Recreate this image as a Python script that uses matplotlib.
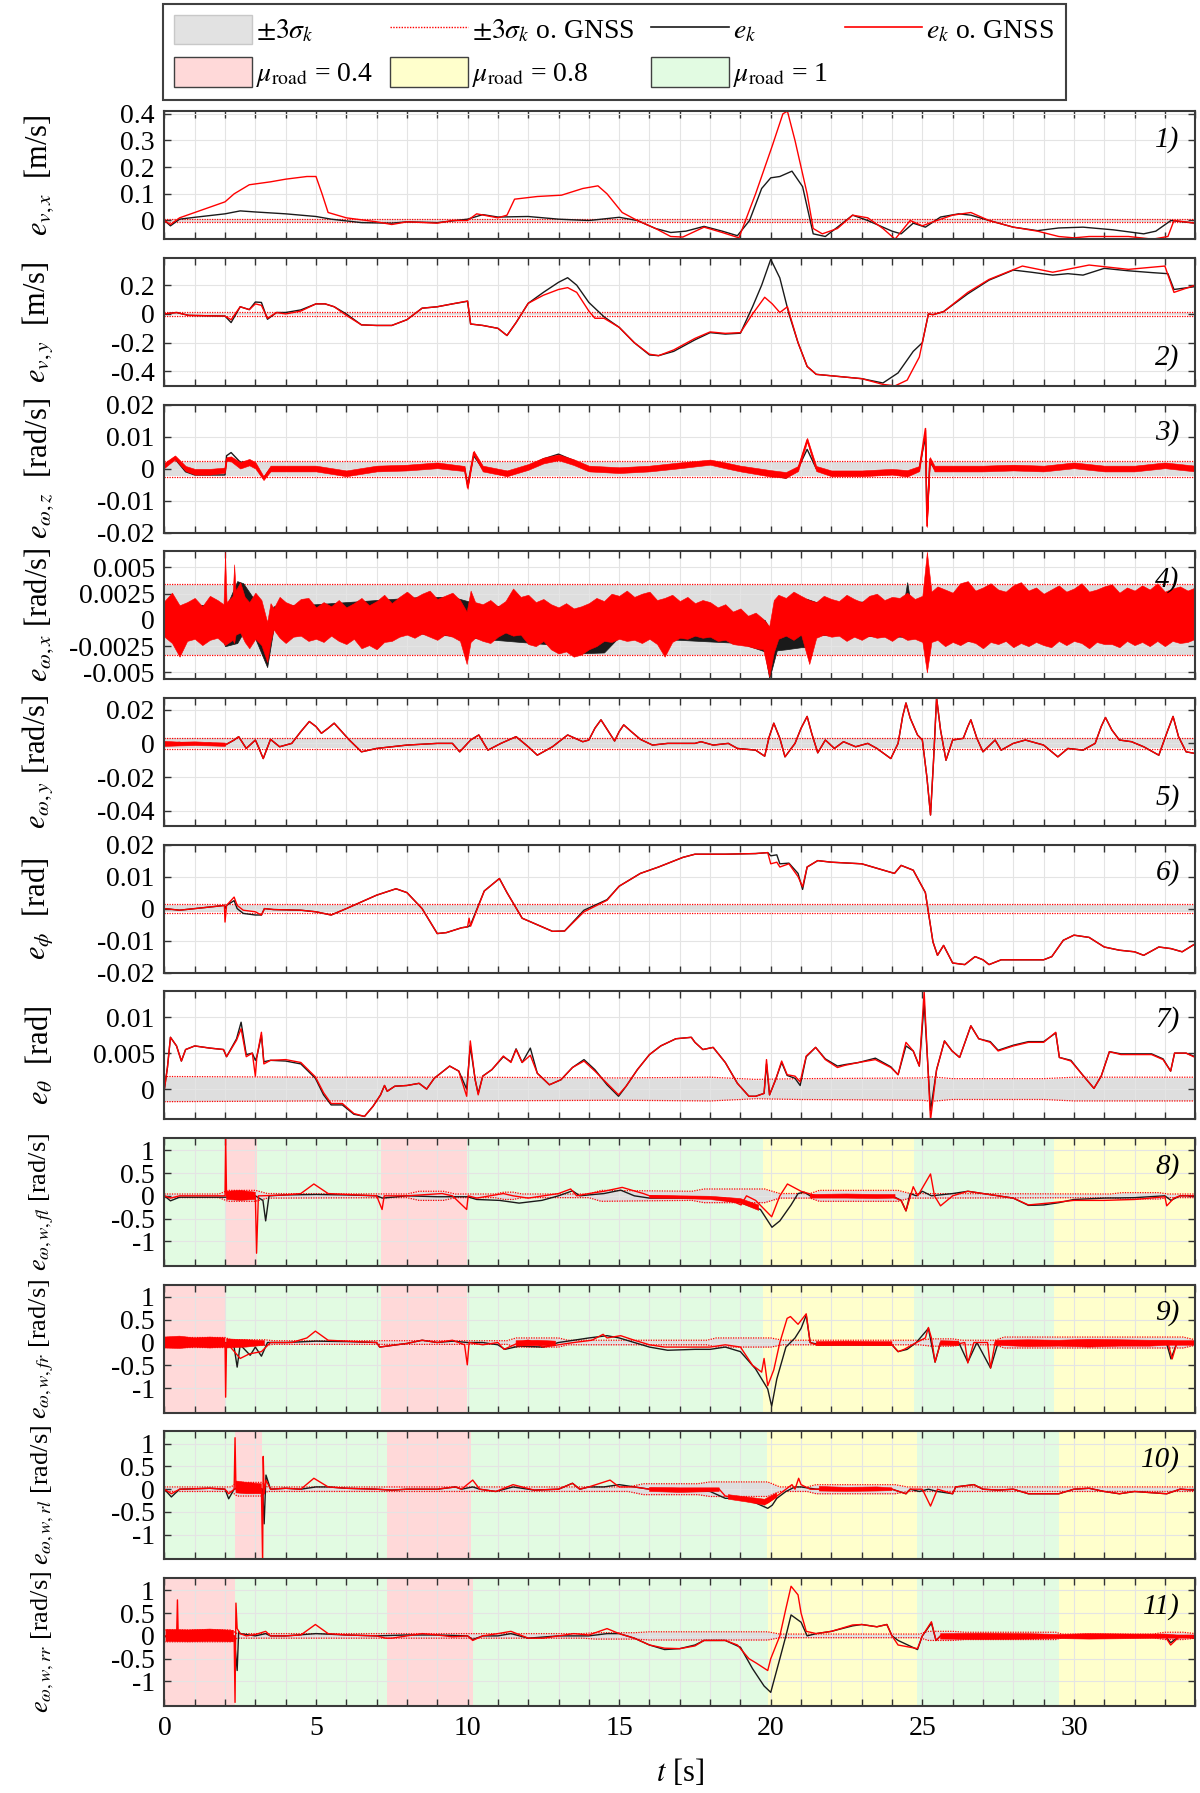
import numpy as np
import matplotlib.pyplot as plt
from matplotlib.lines import Line2D
from matplotlib.patches import Patch
from matplotlib.ticker import FuncFormatter, FormatStrFormatter

plt.rcParams['font.family'] = ['Liberation Serif', 'DejaVu Serif']
plt.rcParams['mathtext.fontset'] = 'stix'
plt.rcParams['axes.unicode_minus'] = False

nan = np.nan

# ---------------- panel 1: e_v,x ----------------
p1_t_k = [0, 0.2, 0.5, 1, 2, 2.5, 3, 4, 5, 5.5, 6.5, 7.5, 8, 9, 10, 10.5, 11, 12, 13, 14,
          15, 15.6, 16.2, 16.7, 17.2, 17.8, 18.4, 18.9, 19.3, 19.7, 20.0, 20.3, 20.7, 21.05, 21.4,
          21.8, 22.2, 22.7, 23.2, 24.0, 24.3, 24.7, 25.1, 25.6, 26.2, 26.6, 27.2, 28.0, 28.8, 29.5,
          30.3, 31.3, 32.3, 32.7, 33.2, 34]
p1_k = [0, -0.02, 0.005, 0.012, 0.025, 0.036, 0.032, 0.025, 0.015, 0.005, -0.008, -0.01, -0.005,
        -0.008, 0.005, 0.022, 0.013, 0.015, 0.005, 0.0,
        0.012, 0.0, -0.03, -0.045, -0.04, -0.022, -0.04, -0.057, 0.0, 0.12, 0.16, 0.165, 0.185, 0.127,
        -0.05, -0.06, -0.025, 0.02, 0.0, -0.04, -0.05, -0.01, -0.025, 0.013, 0.025, 0.02, 0.0, -0.025,
        -0.038, -0.028, -0.025, -0.035, -0.05, -0.04, 0.0, -0.01]
p1_t_g = [0, 0.2, 0.5, 1, 2, 2.3, 2.8, 3.5, 4, 4.7, 5.0, 5.2, 5.4, 6, 7, 7.5, 8, 9, 9.5, 10,
          10.3, 11, 11.3, 11.55, 12.3, 13.1, 13.8, 14.3, 14.6, 15.1, 15.6, 16.2, 16.7, 17.1, 17.8,
          18.4, 18.95, 19.5, 20.05, 20.4, 20.55, 20.8, 21.2, 21.4, 21.7, 22.2, 22.7, 23.2, 23.7, 24.1,
          24.6, 25.0, 25.35, 26.0, 26.6, 27.2, 28.0, 28.8, 29.5, 30.0, 30.5, 31.8, 32.6, 33.1, 33.3, 34]
p1_g = [0, -0.015, 0.01, 0.03, 0.07, 0.1, 0.134, 0.145, 0.155, 0.165, 0.165, 0.1, 0.03, 0.01, -0.005,
        -0.015, -0.005, -0.01, 0.0, 0.0, 0.025, 0.01, 0.02, 0.08, 0.09, 0.095, 0.12, 0.13, 0.1, 0.03,
        0.0, -0.03, -0.06, -0.062, -0.025, -0.045, -0.065, 0.1, 0.28, 0.4, 0.41, 0.3, 0.1, -0.03, -0.05,
        -0.03, 0.02, 0.01, -0.03, -0.07, 0.0, -0.02, -0.005, 0.02, 0.03, 0.0, -0.025, -0.04, -0.06,
        -0.065, -0.06, -0.06, -0.07, -0.06, 0.0, -0.01]
p1_sig_t = [0, 34]
p1_sig = [0.004, 0.004]
p1_sig_g = [0.006, 0.006]

# ---------------- panel 2: e_v,y ----------------
p2_t_k = [0, 0.4, 0.8, 2.0, 2.2, 2.5, 2.8, 3.0, 3.2, 3.4, 3.7, 4.0, 4.5, 5.0, 5.3, 5.6, 6.0, 6.5,
          7.0, 7.5, 8.0, 8.5, 9.0, 9.5, 10.0, 10.1, 10.5, 11.0, 11.3, 11.6, 12.0, 12.5, 13.0, 13.3,
          13.6, 14.0, 14.5, 15.0, 15.5, 16.0, 16.3, 16.8, 17.5, 18.0, 18.5, 19.0, 19.4, 19.7, 20.0,
          20.3, 20.6, 20.9, 21.2, 21.5, 22.0, 22.5, 23.0, 23.7, 24.2, 24.7, 25.0, 25.2, 25.35, 25.7,
          26.5, 27.2, 28.0, 28.6, 29.3, 29.8, 30.3, 31.0, 31.8, 32.6, 33.1, 33.3, 34]
p2_k = [0, 0.01, -0.01, -0.015, -0.06, 0.05, 0.03, 0.083, 0.08, -0.037, 0.01, 0.01, 0.028, 0.07,
        0.07, 0.05, 0.0, -0.076, -0.08, -0.08, -0.04, 0.04, 0.05, 0.07, 0.088, -0.07, -0.08, -0.1,
        -0.15, -0.06, 0.074, 0.15, 0.22, 0.252, 0.2, 0.08, -0.02, -0.093, -0.2, -0.285, -0.29, -0.26,
        -0.18, -0.13, -0.14, -0.134, 0.05, 0.2, 0.38, 0.25, 0.0, -0.2, -0.365, -0.42, -0.43, -0.44,
        -0.45, -0.48, -0.41, -0.26, -0.2, 0.0, -0.005, 0.016, 0.14, 0.235, 0.305, 0.29, 0.27, 0.28,
        0.27, 0.317, 0.3, 0.287, 0.28, 0.17, 0.19]
p2_t_g = [0, 0.4, 0.8, 2.0, 2.2, 2.5, 2.8, 3.0, 3.2, 3.4, 3.7, 4.0, 4.5, 5.0, 5.3, 5.6, 6.0, 6.5,
          7.0, 7.5, 8.0, 8.5, 9.0, 9.5, 10.0, 10.1, 10.5, 11.0, 11.3, 11.6, 12.0, 12.5, 13.0, 13.3,
          13.6, 14.0, 14.2, 14.5, 15.0, 15.5, 16.0, 16.3, 16.8, 17.5, 18.0, 18.5, 19.0, 19.4, 19.8,
          20.05, 20.3, 20.55, 20.9, 21.2, 21.5, 22.0, 22.5, 23.0, 23.7, 24.1, 24.5, 24.9, 25.1, 25.2,
          25.35, 25.7, 26.5, 27.2, 28.3, 29.3, 30.5, 31.8, 33.0, 33.3, 34]
p2_g = [0, 0.01, -0.01, -0.015, -0.04, 0.05, 0.03, 0.07, 0.06, -0.03, 0.01, 0.0, 0.02, 0.07, 0.07,
        0.05, -0.01, -0.076, -0.08, -0.08, -0.04, 0.04, 0.05, 0.07, 0.09, -0.07, -0.08, -0.1, -0.15,
        -0.06, 0.074, 0.13, 0.17, 0.183, 0.15, 0.02, -0.03, -0.03, -0.093, -0.2, -0.28, -0.29, -0.25,
        -0.17, -0.125, -0.135, -0.13, 0.0, 0.116, 0.07, 0.01, 0.05, -0.2, -0.365, -0.42, -0.43, -0.44,
        -0.45, -0.49, -0.5, -0.46, -0.3, -0.1, 0.0, -0.005, 0.016, 0.15, 0.24, 0.333, 0.29, 0.34,
        0.31, 0.333, 0.15, 0.2]
p2_sig_t = [0, 34]
p2_sig = [0.01, 0.01]
p2_sig_g = [0.012, 0.012]

# ---------------- panel 3: e_omega,z ----------------
p3_t = [0, 0.35, 0.7, 1.0, 1.5, 2.0, 2.05, 2.2, 2.5, 2.8, 3.0, 3.27, 3.5, 4.0, 5.0, 6.0, 7.0, 8.0,
        9.0, 9.9, 10.0, 10.2, 10.5, 11.3, 12.0, 12.5, 13.0, 13.5, 14.0, 15.0, 16.0, 17.0, 18.0, 18.5,
        19.0, 20.0, 20.5, 20.9, 21.2, 21.5, 22.0, 23.0, 24.0, 24.5, 24.9, 25.1, 25.15, 25.25, 25.4,
        26.0, 27.0, 28.0, 29.0, 30.0, 31.0, 32.0, 33.0, 34]
p3_g = [0.001, 0.0035, 0.0, -0.001, -0.001, -0.0005, 0.003, 0.003, 0.001, 0.002, 0.001, -0.003, 0.0,
        0.0, 0.0, -0.0015, 0.0, 0.0003, 0.001, 0.0, -0.006, 0.005, 0.0, -0.0015, 0.0005, 0.0025, 0.0035,
        0.002, 0.0, -0.0005, 0.0, 0.001, 0.002, 0.001, 0.0, -0.0015, -0.002, 0.0, 0.009, 0.0, -0.0015,
        -0.0015, -0.001, -0.0015, 0.0, 0.0125, -0.018, 0.003, 0.0, 0.0, 0.0, 0.0003, 0.0, 0.001, 0.0,
        0.0, 0.001, 0.0]
p3_k = [0.001, 0.003, -0.001, -0.002, -0.002, -0.002, 0.004, 0.005, 0.002, 0.002, 0.001, -0.003, 0.0,
        0.0, 0.0, -0.0015, 0.0, 0.0003, 0.001, 0.0, -0.005, 0.004, 0.0, -0.0015, 0.0005, 0.003, 0.0045,
        0.0025, 0.0, -0.0005, 0.0, 0.001, 0.002, 0.001, 0.0, -0.002, -0.003, 0.0, 0.006, 0.0, -0.0015,
        -0.0015, -0.001, -0.0015, 0.0, 0.01, -0.015, 0.002, 0.0, 0.0, 0.0, 0.0003, 0.0, 0.0012, 0.0,
        0.0, 0.001, 0.0]
# half width of the measurement noise seen around the red trace
p3_noise = [0.0008, 0.0006, 0.0008, 0.0009, 0.0009, 0.0008, 0.0006, 0.0008, 0.001, 0.001, 0.001,
            0.0006, 0.0009, 0.0009, 0.0009, 0.0009, 0.0009, 0.0009, 0.0009, 0.0008, 0.0004, 0.0006,
            0.0009, 0.0009, 0.0009, 0.0009, 0.0009, 0.0009, 0.0009, 0.0009, 0.0009, 0.0009, 0.0008,
            0.0009, 0.0009, 0.001, 0.0009, 0.0008, 0.0006, 0.0008, 0.0009, 0.0009, 0.0009, 0.001,
            0.0008, 0.0003, 0.0003, 0.0006, 0.0009, 0.0009, 0.0009, 0.0009, 0.0009, 0.0009, 0.0009,
            0.0009, 0.0009, 0.0009]
p3_sig_t = [0, 34]
p3_sig = [0.0022, 0.0022]
p3_sig_g = [0.0025, 0.0025]

# ---------------- panel 4: e_omega,x (noise dominated, envelope of the noise) ----------------
p4_t = [0, 0.25, 0.5, 0.75, 1.0, 1.25, 1.5, 1.75, 1.95, 2.0,
        2.05, 2.25, 2.3, 2.35, 2.5, 2.65, 2.8, 3.0, 3.2, 3.39,
        3.5, 3.6, 3.8, 4.0, 4.25, 4.5, 4.75, 5.0, 5.25, 5.5,
        5.75, 6.0, 6.25, 6.5, 6.75, 7.0, 7.25, 7.5, 7.75, 8.0,
        8.25, 8.5, 8.75, 9.0, 9.25, 9.5, 9.75, 9.97, 10.1, 10.25,
        10.5, 10.75, 11.0, 11.25, 11.5, 11.75, 12.0, 12.25, 12.5, 12.75,
        13.0, 13.25, 13.5, 13.75, 14.0, 14.25, 14.5, 14.75, 15.0, 15.25,
        15.5, 15.75, 16.0, 16.25, 16.5, 16.75, 17.0, 17.25, 17.5, 17.75,
        18.0, 18.25, 18.5, 18.75, 19.0, 19.25, 19.5, 19.75, 19.95, 20.1,
        20.25, 20.5, 20.75, 21.0, 21.27, 21.5, 21.75, 22.0, 22.25, 22.5,
        22.75, 23.0, 23.25, 23.5, 23.75, 24.0, 24.25, 24.5, 24.75, 25.0,
        25.15, 25.3, 25.5, 25.75, 26.0, 26.25, 26.5, 26.75, 27.0, 27.25,
        27.5, 27.75, 28.0, 28.25, 28.5, 28.75, 29.0, 29.25, 29.5, 29.75,
        30.0, 30.25, 30.5, 30.75, 31.0, 31.25, 31.5, 31.75, 32.0, 32.25,
        32.5, 32.75, 33.0, 33.25, 33.5, 33.75, 34]
p4_g_hi = [0.0018, 0.0026, 0.0014, 0.0017, 0.0021, 0.0013, 0.0023, 0.0019, 0.0015, 0.0065,
           0.0017, 0.0023, 0.0053, 0.0028, 0.0036, 0.0022, 0.0017, 0.0026, 0.0019, -0.0002,
           0.0016, 0.0011, 0.0022, 0.0017, 0.0014, 0.0020, 0.0021, 0.0012, 0.0017, 0.0013,
           0.0019, 0.0012, 0.0016, 0.0021, 0.0014, 0.0018, 0.0024, 0.0016, 0.0022, 0.0027,
           0.0021, 0.0025, 0.0028, 0.0020, 0.0023, 0.0026, 0.0019, 0.0008, 0.0028, 0.0017,
           0.0015, 0.0019, 0.0013, 0.0018, 0.0030, 0.0022, 0.0024, 0.0017, 0.0020, 0.0015,
           0.0012, 0.0016, 0.0011, 0.0013, 0.0016, 0.0021, 0.0018, 0.0025, 0.0023, 0.0028,
           0.0022, 0.0025, 0.0027, 0.0019, 0.0021, 0.0024, 0.0018, 0.0022, 0.0016, 0.0019,
           0.0017, 0.0012, 0.0015, 0.0008, 0.0011, 0.0004, 0.0007, 0.0001, -0.0006, 0.0019,
           0.0024, 0.0021, 0.0027, 0.0023, 0.0019, 0.0017, 0.0023, 0.0020, 0.0018, 0.0024,
           0.0020, 0.0017, 0.0023, 0.0025, 0.0019, 0.0022, 0.0021, 0.0026, 0.0020, 0.0023,
           0.0065, 0.0027, 0.0032, 0.0029, 0.0026, 0.0035, 0.0037, 0.0028, 0.0031, 0.0035,
           0.0029, 0.0027, 0.0033, 0.0036, 0.0028, 0.0031, 0.0025, 0.0029, 0.0033, 0.0027,
           0.0030, 0.0035, 0.0027, 0.0029, 0.0032, 0.0034, 0.0026, 0.0031, 0.0028, 0.0033,
           0.0029, 0.0035, 0.0027, 0.0030, 0.0032, 0.0028, 0.0031]
p4_g_lo = [-0.0016, -0.0022, -0.0035, -0.0020, -0.0018, -0.0024, -0.0019, -0.0017, -0.0022, -0.0024,
           -0.0023, -0.0019, -0.0022, -0.0014, -0.0012, -0.0021, -0.0027, -0.0018, -0.0024, -0.0040,
           -0.0021, -0.0009, -0.0017, -0.0022, -0.0016, -0.0015, -0.0020, -0.0018, -0.0021, -0.0015,
           -0.0020, -0.0023, -0.0018, -0.0027, -0.0024, -0.0028, -0.0021, -0.0020, -0.0016, -0.0014,
           -0.0017, -0.0013, -0.0016, -0.0019, -0.0014, -0.0016, -0.0020, -0.0042, -0.0021, -0.0017,
           -0.0020, -0.0022, -0.0016, -0.0012, -0.0015, -0.0014, -0.0023, -0.0025, -0.0020, -0.0028,
           -0.0032, -0.0030, -0.0035, -0.0033, -0.0028, -0.0025, -0.0020, -0.0021, -0.0018, -0.0020,
           -0.0019, -0.0022, -0.0018, -0.0023, -0.0035, -0.0021, -0.0017, -0.0018, -0.0015, -0.0017,
           -0.0016, -0.0020, -0.0019, -0.0023, -0.0024, -0.0025, -0.0027, -0.0028, -0.0054, -0.0031,
           -0.0018, -0.0015, -0.0019, -0.0014, -0.0042, -0.0017, -0.0014, -0.0016, -0.0015, -0.0020,
           -0.0016, -0.0019, -0.0015, -0.0017, -0.0016, -0.0020, -0.0015, -0.0019, -0.0018, -0.0021,
           -0.0050, -0.0021, -0.0019, -0.0025, -0.0021, -0.0024, -0.0020, -0.0022, -0.0027, -0.0021,
           -0.0023, -0.0020, -0.0026, -0.0022, -0.0025, -0.0021, -0.0024, -0.0026, -0.0020, -0.0024,
           -0.0020, -0.0022, -0.0027, -0.0021, -0.0023, -0.0023, -0.0026, -0.0020, -0.0024, -0.0021,
           -0.0025, -0.0020, -0.0025, -0.0020, -0.0022, -0.0021, -0.0018]
p4_t_k = [0, 1.9, 2.0, 2.4, 2.6, 3.0, 3.39, 3.6, 5.0, 8.5, 9.5, 10.5, 13.0, 13.5, 14.5, 15.0, 19.0,
          19.8, 19.95, 20.2, 20.5, 21.0, 21.2, 21.5, 24.4, 24.5, 24.6, 26.0, 26.5, 27.0, 34]
p4_k_hi = [0.0013, 0.0015, 0.001, 0.0037, 0.0035, 0.0018, -0.0005, 0.0013, 0.0015, 0.0022, 0.0022,
           0.0014, 0.0011, 0.001, 0.0012, 0.0022, 0.0005, 0.0, -0.0008, 0.0015, 0.0018, 0.0015, 0.002,
           0.0017, 0.0018, 0.0036, 0.0018, 0.0024, 0.0028, 0.0024, 0.0026]
p4_k_lo = [-0.0013, -0.0016, -0.0025, -0.0022, -0.0012, -0.0018, -0.0045, -0.0008, -0.0014, -0.0013,
           -0.0015, -0.0018, -0.0024, -0.0032, -0.0031, -0.0016, -0.0022, -0.003, -0.0056, -0.0029,
           -0.0028, -0.0026, -0.0026, -0.0014, -0.0016, -0.0017, -0.0016, -0.0019, -0.002, -0.002,
           -0.0016]
p4_sig_t = [0, 34]
p4_sig = [0.0033, 0.0033]
p4_sig_g = [0.00338, 0.00338]

# ---------------- panel 5: e_omega,y (e_k and e_k o. GNSS coincide) ----------------
p5_t = [0, 0.5, 1.0, 1.5, 2.0, 2.3, 2.45, 2.7, 3.0, 3.1, 3.26, 3.5, 3.8, 4.2, 4.5, 4.78, 5.0, 5.18,
        5.4, 5.6, 5.85, 6.1, 6.5, 7.0, 8.0, 9.0, 9.5, 9.74, 10.1, 10.37, 10.67, 11.1, 11.6, 12.0,
        12.3, 12.8, 13.3, 13.8, 14.0, 14.2, 14.4, 14.65, 14.85, 15.0, 15.15, 15.4, 15.7, 16.1, 16.6,
        17.5, 17.7, 18.1, 18.6, 18.9, 19.5, 19.8, 19.95, 20.1, 20.3, 20.47, 20.8, 21.0, 21.2, 21.35,
        21.55, 21.8, 22.1, 22.4, 22.8, 23.2, 23.5, 23.96, 24.2, 24.35, 24.46, 24.6, 24.84, 25.0,
        25.15, 25.27, 25.37, 25.47, 25.6, 25.78, 26.0, 26.35, 26.5, 26.6, 26.8, 27.0, 27.4, 27.6,
        28.0, 28.4, 29.0, 29.47, 29.8, 30.3, 30.7, 30.9, 31.04, 31.25, 31.5, 31.9, 32.3, 32.8, 33.1,
        33.27, 33.45, 33.7, 34]
p5_g = [0.0, 0.0005, -0.0005, 0.0, -0.001, 0.002, 0.004, -0.003, 0.002, -0.002, -0.009, 0.0024,
        -0.002, 0.0, 0.007, 0.013, 0.01, 0.006, 0.009, 0.012, 0.007, 0.002, -0.005, -0.003, -0.001,
        0.0, 0.0, -0.005, 0.002, 0.005, -0.004, 0.0, 0.004, -0.002, -0.007, -0.002, 0.005, 0.001,
        0.002, 0.009, 0.014, 0.007, 0.0014, 0.007, 0.011, 0.007, 0.0024, -0.001, 0.0, 0.0, 0.001,
        -0.001, 0.0, -0.003, -0.004, -0.0076, 0.004, 0.012, 0.003, -0.008, 0.0, 0.009, 0.016, 0.006,
        -0.0056, 0.002, -0.003, 0.001, -0.002, 0.0, -0.003, -0.009, 0.0, 0.016, 0.024, 0.015, 0.005,
        0.002, -0.02, -0.0425, -0.01, 0.027, 0.008, -0.01, 0.002, 0.003, 0.01, 0.014, 0.003, -0.005,
        0.002, -0.004, 0.0, 0.002, -0.001, -0.008, -0.003, -0.004, 0.0, 0.01, 0.0154, 0.008, 0.002,
        0.001, -0.002, -0.007, 0.008, 0.016, 0.004, -0.005, -0.006]
p5_nz_t = [0, 0.5, 1.0, 1.5, 2.0]
p5_nz_hi = [0.0015, 0.001, 0.0012, 0.0008, 0.0005]
p5_nz_lo = [-0.0015, -0.0012, -0.001, -0.0012, -0.0015]
p5_sig_t = [0, 34]
p5_sig = [0.003, 0.003]
p5_sig_g = [0.0032, 0.0032]

# ---------------- panel 6: e_phi ----------------
p6_t = [0, 0.5, 1.0, 1.5, 1.98, 2.0, 2.05, 2.3, 2.4, 2.6, 3.0, 3.2, 3.3, 3.6, 4.5, 5.0, 5.5, 6.0,
        7.0, 7.64, 8.0, 8.5, 9.0, 9.3, 9.8, 10.0, 10.05, 10.1, 10.55, 11.05, 11.3, 11.8, 12.8, 13.2,
        13.84, 14.6, 15.0, 15.7, 16.3, 17.1, 17.5, 18.5, 19.5, 19.9, 20.0, 20.2, 20.3, 20.6, 20.9,
        21.05, 21.2, 21.55, 22.0, 23.0, 24.08, 24.3, 24.7, 25.1, 25.35, 25.5, 25.7, 26.0, 26.4, 26.74,
        27.0, 27.2, 27.6, 28.5, 29.0, 29.27, 29.65, 30.0, 30.5, 31.0, 31.5, 32.0, 32.3, 32.8, 33.2,
        33.57, 34]
p6_g = [0.0, -0.0005, 0.0, 0.0005, 0.001, -0.0042, 0.001, 0.0036, 0.001, -0.0005, -0.001, -0.002, 0.0,
        -0.0003, -0.0005, -0.001, -0.002, 0.0, 0.0042, 0.0062, 0.005, 0.0, -0.0078, -0.0075, -0.006,
        -0.0057, -0.003, -0.0055, 0.0055, 0.0094, 0.005, -0.003, -0.0071, -0.007, -0.001, 0.0026,
        0.007, 0.011, 0.013, 0.016, 0.017, 0.017, 0.0172, 0.0175, 0.014, 0.0145, 0.013, 0.014, 0.01,
        0.0068, 0.013, 0.015, 0.0145, 0.014, 0.011, 0.0135, 0.012, 0.005, -0.0104, -0.0146, -0.0115,
        -0.017, -0.0175, -0.015, -0.016, -0.0175, -0.016, -0.016, -0.016, -0.015, -0.0099, -0.0083,
        -0.009, -0.012, -0.013, -0.0135, -0.0146, -0.012, -0.0125, -0.0135, -0.011]
p6_k = [0.0, -0.0005, 0.0, 0.0005, 0.001, 0.0, 0.001, 0.0025, 0.0, -0.0015, -0.002, -0.002, 0.0,
        -0.0003, -0.0005, -0.001, -0.002, 0.0, 0.0042, 0.0062, 0.005, 0.0, -0.0078, -0.0075, -0.006,
        -0.0057, -0.0055, -0.005, 0.0055, 0.0094, 0.005, -0.003, -0.0071, -0.007, -0.0005, 0.0028,
        0.007, 0.011, 0.013, 0.016, 0.017, 0.017, 0.0172, 0.0175, 0.0165, 0.0168, 0.014, 0.0142, 0.011,
        0.006, 0.013, 0.015, 0.0145, 0.014, 0.011, 0.0135, 0.012, 0.005, -0.0104, -0.0146, -0.0115,
        -0.017, -0.0175, -0.015, -0.016, -0.0175, -0.016, -0.016, -0.016, -0.015, -0.0099, -0.0083,
        -0.009, -0.012, -0.013, -0.0135, -0.0146, -0.012, -0.0125, -0.0135, -0.011]
p6_sig_t = [0, 34]
p6_sig = [0.0012, 0.0012]
p6_sig_g = [0.0013, 0.0013]

# ---------------- panel 7: e_theta ----------------
p7_t = [0, 0.1, 0.2, 0.4, 0.56, 0.7, 1.0, 1.5, 1.95, 2.05, 2.38, 2.53, 2.7, 2.9, 3.0, 3.05, 3.2, 3.28,
        3.5, 4.0, 4.5, 4.98, 5.25, 5.5, 5.87, 6.25, 6.6, 6.88, 7.13, 7.26, 7.35, 7.6, 8.0, 8.4, 8.65,
        8.9, 9.41, 9.71, 9.97, 10.09, 10.25, 10.35, 10.5, 10.8, 11.18, 11.43, 11.6, 11.8, 12.07, 12.3,
        12.7, 13.08, 13.46, 13.84, 14.2, 14.6, 14.98, 15.23, 15.6, 16.0, 16.37, 16.87, 17.38, 17.5,
        17.76, 18.1, 18.5, 18.9, 19.28, 19.5, 19.78, 19.86, 19.96, 20.16, 20.36, 20.54, 20.8, 20.97,
        21.17, 21.48, 21.8, 22.2, 22.44, 22.9, 23.45, 23.96, 24.2, 24.46, 24.7, 24.9, 25.06, 25.27,
        25.47, 25.73, 25.98, 26.23, 26.6, 26.86, 27.24, 27.5, 28.0, 28.5, 29.0, 29.4, 29.52, 29.9,
        30.28, 30.66, 30.9, 31.17, 31.55, 32.56, 32.94, 33.19, 33.32, 33.7, 34]
p7_g = [0.0, 0.003, 0.0072, 0.006, 0.0039, 0.0055, 0.006, 0.0057, 0.0055, 0.0045, 0.0068, 0.0084,
        0.0045, 0.005, 0.0018, 0.0045, 0.0079, 0.0035, 0.004, 0.0041, 0.0037, 0.0017, -0.0005, -0.002,
        -0.002, -0.0034, -0.0038, -0.0024, -0.0008, 0.0005, -0.0003, 0.0004, 0.0005, 0.0008, 0.0,
        0.0015, 0.0032, 0.0025, -0.001, 0.0067, 0.0013, -0.0008, 0.0018, 0.0027, 0.0046, 0.0037,
        0.0055, 0.0037, 0.0047, 0.0022, 0.0006, 0.0013, 0.003, 0.0039, 0.0025, 0.0008, -0.0008, 0.0004,
        0.0027, 0.0048, 0.006, 0.007, 0.0072, 0.0065, 0.0055, 0.0058, 0.0037, 0.0008, -0.001, -0.001,
        -0.0006, 0.0041, -0.0008, 0.0013, 0.0039, 0.002, 0.0018, 0.001, 0.0046, 0.0058, 0.0041, 0.003,
        0.0033, 0.0037, 0.0041, 0.003, 0.002, 0.0065, 0.0053, 0.0032, 0.0135, -0.0043, 0.0027, 0.0067,
        0.0053, 0.0044, 0.0088, 0.007, 0.0065, 0.0053, 0.006, 0.0065, 0.0065, 0.0079, 0.0044, 0.0039,
        0.002, 0.0001, 0.0018, 0.0052, 0.0048, 0.0048, 0.0041, 0.0025, 0.005, 0.005, 0.0044]
p7_k = [0.0, 0.003, 0.0072, 0.006, 0.0039, 0.0055, 0.006, 0.0057, 0.0055, 0.0045, 0.007, 0.0093,
        0.0048, 0.005, 0.004, 0.0045, 0.0075, 0.0038, 0.004, 0.0039, 0.0035, 0.0015, -0.0008, -0.0022,
        -0.0022, -0.0035, -0.0038, -0.0024, -0.0008, 0.0005, -0.0003, 0.0004, 0.0005, 0.0008, 0.0,
        0.0015, 0.0032, 0.0025, 0.0, 0.006, 0.0013, -0.0006, 0.0018, 0.0027, 0.0045, 0.0038, 0.0056,
        0.0037, 0.0057, 0.0022, 0.0006, 0.0013, 0.003, 0.0041, 0.0027, 0.0006, -0.001, 0.0004, 0.0027,
        0.0048, 0.006, 0.007, 0.0072, 0.0065, 0.0055, 0.0058, 0.0037, 0.0008, -0.001, -0.001, -0.0006,
        0.0035, -0.0008, 0.0013, 0.0037, 0.0019, 0.0015, 0.0005, 0.0045, 0.0058, 0.0042, 0.0032, 0.0034,
        0.0037, 0.0043, 0.0031, 0.002, 0.006, 0.0053, 0.0032, 0.012, -0.003, 0.0027, 0.0067, 0.0053,
        0.0044, 0.0088, 0.007, 0.0066, 0.0054, 0.0061, 0.0066, 0.0066, 0.0078, 0.0044, 0.004, 0.002,
        0.0001, 0.0018, 0.0052, 0.0049, 0.0049, 0.0042, 0.0025, 0.005, 0.005, 0.0045]
p7_sig_t = [0, 5, 10, 15, 18, 19.5, 21, 25, 25.3, 26, 29, 30, 34]
p7_sig = [0.0017, 0.0016, 0.0016, 0.0015, 0.0016, 0.0013, 0.0014, 0.0015, 0.0016, 0.0014, 0.0014,
          0.0016, 0.0016]
p7_sig_g = [0.00175, 0.00165, 0.00165, 0.00155, 0.00165, 0.00135, 0.00145, 0.00155, 0.0017,
            0.00145, 0.00145, 0.00165, 0.00165]

# ---------------- panel 8: e_omega,w,fl ----------------
p8_t_k = [0, 0.2, 0.5, 1.0, 2.0, 2.5, 3.0, 3.25, 3.34, 3.45, 4, 5, 6, 7, 7.2, 8, 9, 10, 10.3, 11.05,
          11.7, 12.45, 13.0, 13.46, 13.7, 14.0, 14.5, 15.05, 15.5, 16.0, 17.0, 18.0, 19.0, 19.66,
          20.04, 20.3, 20.67, 20.9, 21.1, 21.3, 21.5, 22, 23, 24.0, 24.3, 24.46, 24.6, 24.8, 25.0,
          25.3, 26, 26.5, 27, 27.5, 28, 28.5, 29.0, 29.5, 30, 31, 32, 33, 33.2, 33.5, 34]
p8_k = [0, -0.11, -0.03, -0.03, -0.03, 0.0, 0.0, -0.1, -0.55, 0.0, 0.02, 0.03, 0.02, 0.0, -0.05, 0.0,
        -0.02, -0.02, -0.08, -0.1, -0.16, -0.1, 0.0, 0.11, 0.0, 0.02, 0.05, 0.125, 0.0, -0.05, -0.05,
        -0.05, -0.15, -0.3, -0.69, -0.55, -0.2, 0.05, 0.08, 0.0, 0.0, -0.02, -0.02, 0.0, -0.1, -0.33,
        0.05, 0.0, 0.1, 0.0, 0.05, 0.1, 0.05, 0.0, -0.05, -0.21, -0.2, -0.15, -0.08, -0.05, -0.04, 0.0,
        -0.1, 0.0, 0.0]
p8_t_g = [0, 0.2, 0.5, 1, 2.0, 2.02, 2.05, 3.0, 3.04, 3.1, 3.2, 4.0, 4.5, 4.93, 5.4, 6, 7.0, 7.18,
          7.25, 8, 9.16, 9.5, 9.97, 10.02, 10.3, 11.18, 11.5, 12, 12.5, 13.0, 13.4, 13.6, 14, 14.5,
          15.1, 15.8, 16.0, 18.5, 19.02, 19.2, 19.5, 20.03, 20.3, 20.55, 21.0, 21.5, 22.0, 24.0, 24.3,
          24.46, 24.7, 24.85, 25.27, 25.4, 25.6, 26.0, 26.5, 27, 27.5, 28, 28.5, 29.3, 30, 31, 32, 33.0,
          33.06, 33.3, 33.5, 34]
p8_g = [0, -0.05, 0.0, 0.0, 0.0, 1.3, 0.0, 0.0, -1.26, 0.0, 0.0, 0.02, 0.05, 0.26, 0.05, 0.03, 0.0,
        -0.3, 0.0, 0.0, 0.05, 0.0, -0.3, 0.0, -0.05, 0.05, 0.0, -0.05, 0.0, 0.05, 0.15, 0.0, 0.05, 0.1,
        0.185, 0.05, 0.0, -0.05, -0.2, 0.0, -0.1, -0.46, 0.0, 0.26, 0.1, 0.0, -0.02, -0.02, -0.1, -0.33,
        0.2, 0.0, 0.48, 0.0, -0.22, 0.0, 0.1, 0.05, 0.0, -0.05, -0.2, -0.15, -0.1, -0.1, -0.08, -0.02,
        -0.22, -0.05, 0.0, 0.0]
p8_nz_t = [2.05, 2.5, 3.0, nan, 16.0, 17.0, 18.0, 19.0, 19.6, nan, 21.3, 22.5, 23.5, 24.1]
p8_nz_hi = [0.1, 0.12, 0.08, nan, 0.01, 0.0, -0.01, -0.06, -0.2, nan, 0.03, 0.04, 0.03, 0.03]
p8_nz_lo = [-0.08, -0.1, -0.08, nan, -0.05, -0.06, -0.08, -0.16, -0.32, nan, -0.05, -0.05, -0.06,
            -0.05]
p8_sig_t = [0, 1.8, 2.1, 3.0, 3.4, 8.0, 8.4, 9.2, 9.6, 10.9, 11.2, 11.5, 11.8, 14.0, 14.4, 17.4,
            17.8, 19.8, 20.3, 21.3, 21.6, 24.2, 24.6, 31.2, 31.6, 32.8, 33.1, 34]
p8_sig = [0.04, 0.04, 0.12, 0.12, 0.05, 0.04, 0.1, 0.1, 0.04, 0.04, 0.08, 0.08, 0.04, 0.04, 0.12,
          0.1, 0.15, 0.15, 0.05, 0.05, 0.12, 0.12, 0.05, 0.04, 0.07, 0.07, 0.04, 0.04]
p8_mu_edges = [0, 2.02, 3.04, 7.16, 9.99, 19.76, 24.72, 29.35, 34]
p8_mu = [1, 0.4, 1, 0.4, 1, 0.8, 1, 0.8]

# ---------------- panel 9: e_omega,w,fr ----------------
p9_t_k = [0, 2.0, 2.3, 2.4, 2.5, 2.83, 3.0, 3.2, 3.4, 4, 5, 6, 7, 7.1, 8, 8.5, 9, 9.5, 10.0, 10.5,
          11.0, 11.23, 11.7, 12.5, 13, 13.5, 14, 14.6, 15.0, 15.5, 16.0, 16.6, 17.5, 18.0, 18.5, 19.0,
          19.5, 19.9, 20.03, 20.2, 20.5, 20.8, 21.0, 21.17, 21.3, 21.6, 24.0, 24.2, 24.5, 24.8, 25.2,
          25.42, 25.6, 26.2, 26.5, 26.8, 27.25, 27.5, 33.05, 33.2, 33.4, 34]
p9_k = [0, 0.0, -0.1, -0.54, -0.05, -0.28, -0.1, -0.3, 0.0, 0.0, 0.03, 0.02, 0.0, -0.1, -0.02, 0.05,
        0.0, 0.03, 0.0, 0.0, -0.05, -0.15, -0.08, -0.1, 0.0, 0.05, 0.1, 0.15, 0.1, 0.0, -0.1, -0.17,
        -0.15, -0.15, -0.1, -0.2, -0.58, -1.02, -1.4, -0.8, -0.1, 0.1, 0.31, 0.6, 0.0, -0.05, -0.05,
        -0.2, -0.15, 0.0, 0.31, -0.43, 0.0, 0.0, -0.43, 0.0, -0.56, 0.0, 0.0, -0.36, 0.0, 0.0]
p9_t_g = [0, 2.0, 2.02, 2.05, 2.5, 2.8, 3.2, 3.5, 4.2, 4.7, 4.98, 5.4, 6, 7.0, 7.1, 8, 8.5, 9, 9.5,
          9.9, 9.99, 10.05, 10.5, 11.0, 11.2, 11.7, 12, 12.5, 13, 13.5, 14.1, 14.47, 14.6, 15.05, 15.5,
          16, 16.5, 17.5, 18, 18.5, 19, 19.4, 19.7, 19.78, 19.9, 20.1, 20.3, 20.54, 20.65, 20.9, 21.17,
          21.3, 21.5, 24.0, 24.2, 24.4, 24.8, 25.1, 25.2, 25.3, 25.42, 25.6, 26.0, 26.4, 26.5, 26.7,
          27.15, 27.25, 27.4, 33.1, 33.24, 33.4, 34]
p9_g = [0, 0.0, -1.2, 0.0, -0.35, -0.25, -0.2, 0.0, 0.0, 0.1, 0.25, 0.05, 0.03, 0.0, -0.1, -0.02, 0.05,
        0.0, 0.05, -0.05, -0.49, 0.0, -0.05, 0.0, -0.15, 0.0, 0.05, -0.1, -0.05, 0.0, 0.05, 0.18, 0.1,
        0.15, 0.05, -0.05, -0.1, -0.1, -0.1, -0.05, -0.1, -0.5, -0.65, -0.35, -0.95, -0.6, 0.0, 0.53,
        0.57, 0.4, 0.63, 0.0, -0.05, -0.05, -0.2, -0.15, 0.0, 0.1, 0.33, 0.1, -0.43, 0.0, -0.05, 0.0,
        -0.45, 0.0, 0.0, -0.56, 0.0, 0.0, -0.36, 0.0, 0.0]
p9_nz_t = [0, 0.5, 1.0, 1.5, 2.0, nan, 2.05, 2.7, 3.3, nan, 11.6, 12.3, 12.9, nan, 21.5, 22.5, 23.5,
           24.0, nan, 25.6, 26.2, nan, 27.4, 28.5, 29.5, 30.5, 31.5, 32.5, 33.1, 33.4, 34]
p9_nz_hi = [0.12, 0.14, 0.1, 0.12, 0.1, nan, 0.08, 0.06, 0.04, nan, 0.04, 0.05, 0.03, nan, 0.02, 0.03,
            0.02, 0.02, nan, 0.04, 0.03, nan, 0.05, 0.06, 0.05, 0.07, 0.06, 0.05, 0.05, 0.04, 0.04]
p9_nz_lo = [-0.12, -0.13, -0.1, -0.12, -0.1, nan, -0.12, -0.1, -0.06, nan, -0.08, -0.07, -0.07, nan,
            -0.07, -0.06, -0.07, -0.07, nan, -0.06, -0.07, nan, -0.06, -0.09, -0.08, -0.1, -0.08,
            -0.08, -0.06, -0.06, -0.06]
p9_sig_t = [0, 2.0, 2.2, 3.3, 3.6, 11.3, 11.6, 13.0, 13.3, 17.9, 18.2, 20.0, 20.4, 24.9, 25.3, 26.0,
            26.3, 27.4, 27.7, 33.6, 34]
p9_sig = [0.11, 0.11, 0.06, 0.06, 0.04, 0.04, 0.1, 0.1, 0.05, 0.05, 0.1, 0.1, 0.05, 0.05, 0.08, 0.08,
          0.05, 0.05, 0.12, 0.12, 0.06]
p9_mu_edges = [0, 2.02, 7.16, 9.99, 19.76, 24.72, 29.35, 34]
p9_mu = [0.4, 1, 0.4, 1, 0.8, 1, 0.8]

# ---------------- panel 10: e_omega,w,rl ----------------
p10_t_k = [0, 0.23, 0.5, 1.5, 2.0, 2.12, 2.3, 2.5, 3.0, 3.24, 3.29, 3.35, 3.5, 4.0, 4.5, 5.0, 5.4, 6,
           7, 7.5, 8, 9, 9.6, 9.8, 10.17, 10.4, 10.93, 11.5, 12.2, 13.0, 13.46, 13.7, 14, 14.5, 15.0,
           15.5, 16, 17, 18, 18.5, 19.02, 19.5, 19.9, 20.05, 20.2, 20.5, 20.8, 21.0, 21.5, 22, 24.0,
           24.46, 24.6, 24.9, 25.2, 25.5, 26, 26.1, 26.7, 27, 27.5, 28, 28.5, 29.5, 30, 30.5, 31, 31.5,
           32, 33.06, 33.5, 34]
p10_k = [0, -0.17, 0.0, 0.02, 0.0, -0.21, 0.0, 0.05, 0.05, 0.0, -0.76, 0.31, 0.0, 0.02, 0.0, 0.05,
         0.05, 0.02, 0.0, -0.02, 0.0, 0.0, 0.05, 0.0, 0.05, 0.0, -0.05, 0.05, -0.02, 0.0, 0.13, 0.0,
         0.05, 0.05, 0.1, 0.05, 0.0, 0.0, -0.05, -0.2, -0.2, -0.3, -0.42, -0.35, -0.2, -0.05, 0.05,
         0.05, 0.0, 0.0, 0.0, -0.1, 0.0, -0.05, 0.0, -0.05, -0.1, 0.05, 0.1, 0.0, -0.02, 0.0, -0.1,
         -0.1, 0.0, 0.02, -0.05, -0.1, -0.05, -0.1, 0.0, -0.02]
p10_t_g = [0, 0.23, 0.5, 1.5, 2.0, 2.12, 2.3, 2.33, 2.36, 3.2, 3.24, 3.26, 3.29, 3.35, 3.5, 4.0, 4.5,
           4.93, 5.4, 6, 7, 7.5, 8, 9, 9.6, 9.8, 10.17, 10.4, 10.93, 11.5, 12.2, 13.0, 13.46, 13.7, 14,
           14.7, 15.0, 15.5, 16.0, 18.3, 18.5, 19.02, 19.5, 19.9, 20.2, 20.5, 20.7, 20.8, 20.92, 21.0,
           21.3, 21.6, 24.0, 24.46, 24.6, 25.0, 25.27, 25.5, 26, 26.1, 26.7, 27, 27.5, 28, 28.5, 29.5,
           30, 30.5, 31, 31.5, 32, 33.06, 33.5, 34]
p10_g = [0, -0.1, 0.0, 0.02, 0.0, -0.1, 0.0, 1.13, 0.0, 0.0, -1.6, 0.72, -0.1, 0.2, 0.0, 0.02, 0.0,
         0.24, 0.05, 0.02, 0.0, -0.02, 0.0, 0.0, 0.05, 0.0, 0.2, 0.0, -0.05, 0.1, -0.02, 0.0, 0.13, 0.0,
         0.05, 0.2, 0.05, 0.05, 0.0, 0.0, -0.15, -0.2, -0.28, -0.3, -0.15, 0.0, 0.1, 0.0, 0.24, 0.1,
         0.0, 0.0, 0.0, -0.1, 0.0, 0.0, -0.37, 0.0, -0.1, 0.05, 0.1, 0.0, -0.02, 0.0, -0.1, -0.1, 0.0,
         0.02, -0.05, -0.1, -0.05, -0.1, 0.0, -0.02]
p10_nz_t = [2.36, 2.7, 3.2, nan, 16.0, 17.0, 18.3, nan, 18.6, 19.2, 19.8, 20.2, nan, 21.6, 22.5,
            23.5, 24.0]
p10_nz_hi = [0.18, 0.15, 0.12, nan, 0.04, 0.03, 0.03, nan, -0.12, -0.17, -0.22, -0.08, nan, 0.06,
             0.04, 0.05, 0.03]
p10_nz_lo = [-0.08, -0.1, -0.1, nan, -0.05, -0.07, -0.05, nan, -0.22, -0.28, -0.35, -0.18, nan,
             -0.04, -0.05, -0.04, -0.03]
p10_sig_t = [0, 2.2, 2.4, 3.2, 3.4, 15.3, 15.8, 17.6, 18.0, 19.9, 20.3, 21.2, 21.5, 24.1, 24.5, 34]
p10_sig = [0.05, 0.05, 0.15, 0.15, 0.05, 0.05, 0.12, 0.12, 0.16, 0.16, 0.05, 0.05, 0.1, 0.1, 0.05,
           0.05]
p10_mu_edges = [0, 2.33, 3.21, 7.34, 10.12, 19.86, 24.84, 29.52, 34]
p10_mu = [1, 0.4, 1, 0.4, 1, 0.8, 1, 0.8]

# ---------------- panel 11: e_omega,w,rr ----------------
p11_t_k = [0, 0.3, 0.5, 2.3, 2.4, 2.45, 2.5, 3.0, 3.34, 3.5, 4, 5, 6, 7, 8, 9, 10, 10.17, 10.5, 11,
           11.43, 12, 13, 14, 14.6, 15.0, 15.5, 16.0, 16.5, 17.0, 17.5, 17.8, 18.5, 19.0, 19.4, 19.78,
           20.0, 20.3, 20.5, 20.67, 21.0, 21.2, 21.5, 22.0, 22.7, 23.0, 23.5, 23.83, 24.0, 24.2, 24.84,
           25.0, 25.3, 25.45, 25.6, 33.0, 33.19, 33.5, 34]
p11_k = [0, -0.1, 0.0, 0.0, -0.76, 0.1, 0.05, 0.0, 0.05, 0.0, 0.0, 0.05, 0.02, 0.0, 0.02, 0.02, 0.0,
         -0.08, 0.0, 0.0, 0.05, -0.05, 0.0, 0.0, 0.05, 0.05, -0.05, -0.2, -0.3, -0.28, -0.2, -0.1, -0.1,
         -0.25, -0.72, -1.1, -1.24, -0.5, 0.0, 0.46, 0.3, 0.0, 0.05, 0.1, 0.22, 0.25, 0.2, 0.25, 0.0,
         -0.1, -0.3, 0.0, 0.28, -0.1, 0.0, 0.0, -0.15, 0.0, -0.05]
p11_t_g = [0, 0.3, 0.4, 0.43, 0.46, 2.3, 2.33, 2.36, 2.4, 2.5, 2.7, 3.0, 3.34, 3.5, 4, 4.5, 4.98,
           5.4, 6, 7, 7.3, 7.5, 8.0, 8.5, 9.0, 9.5, 10.0, 10.17, 10.5, 11.0, 11.43, 12.0, 12.5, 13,
           13.5, 14, 14.6, 15.0, 15.5, 16.0, 16.5, 17.0, 17.5, 17.8, 18.5, 18.9, 19.28, 19.53, 19.9,
           20.0, 20.3, 20.5, 20.67, 20.9, 21.0, 21.17, 21.5, 22.0, 22.7, 23.0, 23.5, 23.83, 24.0, 24.2,
           24.84, 25.0, 25.3, 25.45, 25.6, 33.0, 33.19, 33.5, 34]
p11_g = [0, 0.0, -0.1, 0.79, -0.1, 0.0, -1.46, 0.72, 0.16, 0.05, 0.0, 0.03, 0.1, 0.0, 0.0, 0.02, 0.25,
         0.05, 0.02, 0.0, -0.05, -0.05, 0.0, 0.05, 0.02, -0.02, 0.0, -0.1, 0.0, 0.05, 0.1, -0.05, -0.05,
         0.0, 0.05, 0.02, 0.16, 0.05, -0.05, -0.2, -0.27, -0.28, -0.22, -0.1, -0.1, -0.2, -0.5, -0.6,
         -0.76, -0.5, 0.0, 0.6, 1.09, 0.9, 0.5, 0.1, 0.05, 0.1, 0.24, 0.25, 0.2, 0.25, 0.0, -0.2, -0.28,
         0.0, 0.31, -0.1, 0.0, 0.0, -0.2, 0.0, -0.05]
p11_nz_t = [0.05, 0.8, 1.5, 2.28, nan, 25.6, 27.0, 28.5, 29.5, 30.5, 32.0, 33.0, 33.4, 34]
p11_nz_hi = [0.14, 0.13, 0.15, 0.12, nan, 0.05, 0.06, 0.05, 0.03, 0.05, 0.04, 0.04, 0.02, 0.02]
p11_nz_lo = [-0.12, -0.13, -0.12, -0.13, nan, -0.07, -0.08, -0.07, -0.06, -0.07, -0.06, -0.05,
             -0.05, -0.05]
p11_sig_t = [0, 2.2, 2.4, 13.8, 14.2, 15.5, 16.0, 19.9, 20.3, 24.9, 25.2, 26.0, 26.4, 29.4, 29.6,
             32.6, 33.0, 33.6, 34]
p11_sig = [0.13, 0.13, 0.05, 0.05, 0.07, 0.07, 0.09, 0.09, 0.04, 0.04, 0.1, 0.1, 0.08, 0.08, 0.04,
           0.04, 0.08, 0.08, 0.05]
p11_mu_edges = [0, 2.33, 7.34, 10.17, 19.91, 24.84, 29.52, 34]
p11_mu = [0.4, 1, 0.4, 1, 0.8, 1, 0.8]

# axis setup per panel
ylabels = [r'$e_{v,x}$  [m/s]', r'$e_{v,y}$  [m/s]', r'$e_{\omega,z}$  [rad/s]',
           r'$e_{\omega,x}$ [rad/s]', r'$e_{\omega,y}$ [rad/s]', r'$e_{\phi}$  [rad]',
           r'$e_{\theta}$  [rad]', r'$e_{\omega,w,fl}$ [rad/s]', r'$e_{\omega,w,fr}$ [rad/s]',
           r'$e_{\omega,w,rl}$ [rad/s]', r'$e_{\omega,w,rr}$ [rad/s]']
ylabel_sizes = [22, 22, 22, 22, 22, 22, 22, 19, 19, 19, 19]
ylims = [(-0.07, 0.41), (-0.5, 0.39), (-0.02, 0.02), (-0.00565, 0.00655), (-0.049, 0.027),
         (-0.02, 0.02), (-0.0042, 0.0136), (-1.54, 1.27), (-1.54, 1.27), (-1.54, 1.27), (-1.54, 1.27)]
yticks = [[0, 0.1, 0.2, 0.3, 0.4], [-0.4, -0.2, 0, 0.2], [-0.02, -0.01, 0, 0.01, 0.02],
          [-0.005, -0.0025, 0, 0.0025, 0.005], [-0.04, -0.02, 0, 0.02],
          [-0.02, -0.01, 0, 0.01, 0.02], [0, 0.005, 0.01]] + [[-1, -0.5, 0, 0.5, 1]] * 4
tags = ['1)', '2)', '3)', '4)', '5)', '6)', '7)', '8)', '9)', '10)', '11)']
tag_low = [False, True, False, False, True, False, False, False, False, False, False]

MU_COLORS = {0.4: '#ffd9d9', 0.8: '#ffffcc', 1: '#e2fbe2'}
RED = '#ff0000'
BLACK = '#1a1a1a'
DOT = (0, (1, 1))

panels = [
    dict(sig=(p1_sig_t, p1_sig, p1_sig_g), k=(p1_t_k, p1_k), g=(p1_t_g, p1_g)),
    dict(sig=(p2_sig_t, p2_sig, p2_sig_g), k=(p2_t_k, p2_k), g=(p2_t_g, p2_g)),
    dict(sig=(p3_sig_t, p3_sig, p3_sig_g), k=(p3_t, p3_k), g=(p3_t, p3_g),
         gband=(p3_t, np.array(p3_g) + np.array(p3_noise), np.array(p3_g) - np.array(p3_noise))),
    dict(sig=(p4_sig_t, p4_sig, p4_sig_g), kband=(p4_t_k, p4_k_hi, p4_k_lo),
         gband=(p4_t, p4_g_hi, p4_g_lo)),
    dict(sig=(p5_sig_t, p5_sig, p5_sig_g), k=(p5_t, p5_g), g=(p5_t, p5_g),
         gband=(p5_nz_t, p5_nz_hi, p5_nz_lo)),
    dict(sig=(p6_sig_t, p6_sig, p6_sig_g), k=(p6_t, p6_k), g=(p6_t, p6_g)),
    dict(sig=(p7_sig_t, p7_sig, p7_sig_g), k=(p7_t, p7_k), g=(p7_t, p7_g)),
    dict(sig=(p8_sig_t, p8_sig, p8_sig), k=(p8_t_k, p8_k), g=(p8_t_g, p8_g),
         gband=(p8_nz_t, p8_nz_hi, p8_nz_lo), mu=(p8_mu_edges, p8_mu)),
    dict(sig=(p9_sig_t, p9_sig, p9_sig), k=(p9_t_k, p9_k), g=(p9_t_g, p9_g),
         gband=(p9_nz_t, p9_nz_hi, p9_nz_lo), mu=(p9_mu_edges, p9_mu)),
    dict(sig=(p10_sig_t, p10_sig, p10_sig), k=(p10_t_k, p10_k), g=(p10_t_g, p10_g),
         gband=(p10_nz_t, p10_nz_hi, p10_nz_lo), mu=(p10_mu_edges, p10_mu)),
    dict(sig=(p11_sig_t, p11_sig, p11_sig), k=(p11_t_k, p11_k), g=(p11_t_g, p11_g),
         gband=(p11_nz_t, p11_nz_hi, p11_nz_lo), mu=(p11_mu_edges, p11_mu)),
]

fig = plt.figure(figsize=(12, 17.93), dpi=100)
gs = fig.add_gridspec(11, 1, left=0.137, right=0.996, top=0.938, bottom=0.0485, hspace=0.146)

for i, p in enumerate(panels):
    ax = fig.add_subplot(gs[i])
    if 'mu' in p:
        edges, mus = p['mu']
        for a, b, m in zip(edges[:-1], edges[1:], mus):
            ax.axvspan(a, b, color=MU_COLORS[m], lw=0, zorder=0.5)
    st, s_k, s_g = p['sig']
    st, s_k, s_g = np.array(st), np.array(s_k), np.array(s_g)
    ax.fill_between(st, -s_k, s_k, color='#dedede', lw=0, zorder=1)
    ax.plot(st, s_g, color=RED, ls=DOT, lw=0.9, zorder=2)
    ax.plot(st, -s_g, color=RED, ls=DOT, lw=0.9, zorder=2)
    if 'kband' in p:
        bt, bh, bl = p['kband']
        ax.fill_between(bt, bl, bh, color=BLACK, lw=0.5, zorder=2.1)
    if 'k' in p:
        ax.plot(*p['k'], color=BLACK, lw=1.0, zorder=2.2)
    if 'gband' in p:
        bt, bh, bl = p['gband']
        ax.fill_between(np.array(bt, dtype=float), np.array(bl, dtype=float),
                        np.array(bh, dtype=float), color=RED, lw=0.4, zorder=2.3)
    if 'g' in p:
        ax.plot(*p['g'], color=RED, lw=1.0, zorder=2.4)

    ax.set_xlim(0, 34)
    ax.set_ylim(*ylims[i])
    ax.set_xticks(np.arange(0, 35, 1))
    ax.set_yticks(yticks[i])
    ax.yaxis.set_major_formatter(FormatStrFormatter('%g'))
    if i == len(panels) - 1:
        ax.xaxis.set_major_formatter(FuncFormatter(lambda v, pos: f'{v:g}' if v % 5 == 0 else ''))
        ax.set_xlabel(r'$t$ [s]', fontsize=22, labelpad=12)
    else:
        ax.tick_params(axis='x', labelbottom=False)
    ax.tick_params(direction='in', top=True, right=True, length=5, width=1.0,
                   color='#333333', labelsize=20, pad=7)
    ax.grid(True, color='#e4e4e4', lw=0.8)
    for sp in ax.spines.values():
        sp.set_color('#3a3a3a')
        sp.set_linewidth(1.5)
        sp.set_zorder(5)
    ax.set_ylabel(ylabels[i], fontsize=ylabel_sizes[i])
    ax.yaxis.set_label_coords(-0.105, 0.5)
    ax.text(0.985, 0.22 if tag_low[i] else 0.78, tags[i], transform=ax.transAxes, ha='right',
            va='center', fontsize=21, style='italic', zorder=6)

handles = [
    Patch(facecolor='#e2e2e2', edgecolor='#c8c8c8', label=r'$\pm3\sigma_k$'),
    Patch(facecolor=MU_COLORS[0.4], edgecolor='#404040', label=r'$\mu_{\mathrm{road}}$ = 0.4'),
    Line2D([], [], color=RED, ls=DOT, lw=1.0, label=r'$\pm3\sigma_k$ o. GNSS'),
    Patch(facecolor=MU_COLORS[0.8], edgecolor='#404040', label=r'$\mu_{\mathrm{road}}$ = 0.8'),
    Line2D([], [], color=BLACK, lw=1.2, label=r'$e_k$'),
    Patch(facecolor=MU_COLORS[1], edgecolor='#404040', label=r'$\mu_{\mathrm{road}}$ = 1'),
    Line2D([], [], color=RED, lw=1.2, label=r'$e_k$ o. GNSS'),
]
leg = fig.legend(handles=handles, loc='upper left', bbox_to_anchor=(0.136, 0.998), ncol=4,
                 fontsize=20, frameon=True, fancybox=False, edgecolor='#404040', framealpha=1,
                 handlelength=2.8, handleheight=1.25, handletextpad=0.15, columnspacing=0.6,
                 borderpad=0.4, labelspacing=0.45, borderaxespad=0)
leg.get_frame().set_linewidth(1.5)

fig.savefig('out.png', dpi=100)
